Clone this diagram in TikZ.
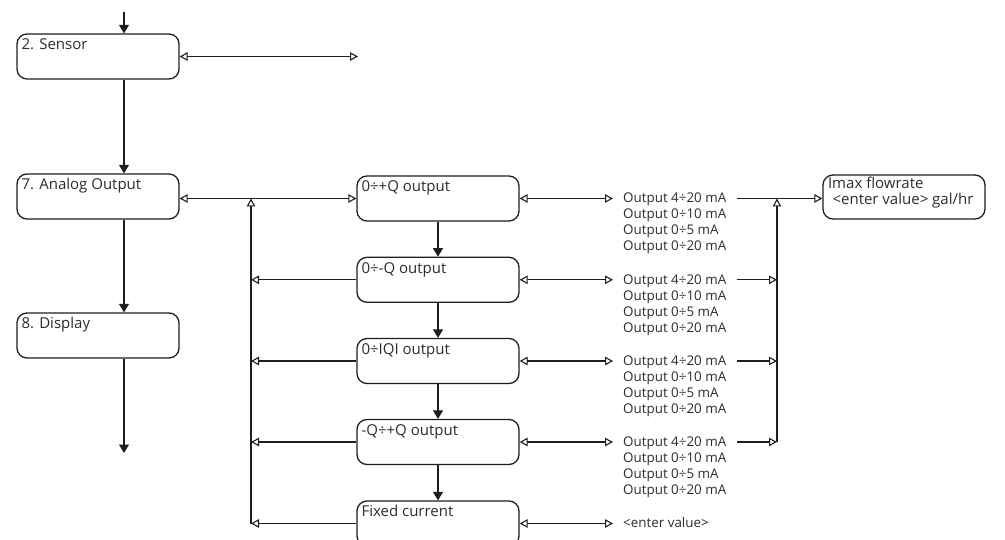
\documentclass[tikz,border=0pt]{standalone}
\usepackage{fontspec}
\setmainfont{Open Sans}
\usetikzlibrary{arrows.meta,calc}
\definecolor{ln}{HTML}{1E1E1E}
\definecolor{tx}{HTML}{2C2C2C}
\begin{document}
\begin{tikzpicture}[x=1pt,y=-1pt,
 box/.style={draw=ln,line width=1.3pt,rounded corners=10pt,minimum width=162pt,minimum height=45pt,inner sep=0pt},
 lbl/.style={anchor=base west,inner sep=0pt,text=tx,font=\fontsize{15}{16}\selectfont},
 otx/.style={anchor=base west,inner xsep=10pt,inner ysep=0pt,text=tx,font=\fontsize{13.4}{16}\selectfont},
 flow/.style={draw=ln,line width=1.1pt,-{Triangle[width=10pt,length=8.5pt]}},
 two/.style={draw=ln,line width=1.1pt,{Triangle[open,width=8.5pt,length=8pt]}-{Triangle[open,width=8.5pt,length=8pt]}},
 one/.style={draw=ln,line width=1.1pt,-{Triangle[open,width=8.5pt,length=8pt]}}]
\path[use as bounding box] (0,0) rectangle (1005,540);
\clip (0,0) rectangle (1005,540);
% boxes
\node[box] (sensor) at (98,56.5) {};
\node[box] (analog) at (98,196.5) {};
\node[box] (display) at (98,335.5) {};
\node[box] (q1) at (438,198.5) {};
\node[box] (q2) at (438,279.8) {};
\node[box] (q3) at (438,361) {};
\node[box] (q4) at (438,442) {};
\node[box] (q5) at (438,523.5) {};
\node[box,minimum height=44pt] (imax) at (904,197) {};
% labels
\node[lbl] (sensorL) at ($(sensor.north west)+(5,16)$) {2. Sensor};
\node[lbl] (analogL) at ($(analog.north west)+(5,16)$) {7. Analog Output};
\node[lbl] (displayL) at ($(display.north west)+(5,16)$) {8. Display};
\node[lbl] (q1L) at ($(q1.north west)+(5,16.5)$) {0÷+Q output};
\node[lbl] (q2L) at ($(q2.north west)+(5,16.5)$) {0÷-Q output};
\node[lbl] (q3L) at ($(q3.north west)+(5,16.5)$) {0÷IQI output};
\node[lbl] (q4L) at ($(q4.north west)+(5,16.5)$) {-Q÷+Q output};
\node[lbl] (q5L) at ($(q5.north west)+(5,16.5)$) {Fixed current};
\node[lbl] (imaxL1) at ($(imax.north west)+(5.5,14)$) {Imax flowrate};
\node[lbl] (imaxL2) at ($(imax.north west)+(10,30)$) {<enter value> gal/hr};
% output texts
\foreach \q/\c in {1/198.5,2/279.8,3/361,4/442}{
  \node[otx] (oa\q) at (613,\c+4.5) {Output 4÷20 mA};
  \node[otx] (ob\q) at (613,\c+20.5) {Output 0÷10 mA};
  \node[otx] (oc\q) at (613,\c+36.5) {Output 0÷5 mA};
  \node[otx] (od\q) at (613,\c+52.5) {Output 0÷20 mA};
}
\node[otx] (ev) at (613,527) {<enter value>};
% coordinates
\coordinate (top) at (124,12);
\coordinate (bot) at (124,453);
\coordinate (sfree) at (358,56.5);
\coordinate (lb) at (251,0);
\coordinate (rb) at (777,0);
% main flow
\draw[flow] (top) -- (top |- sensor.north);
\draw[flow] (top |- sensor.south) -- (top |- analog.north);
\draw[flow] (top |- analog.south) -- (top |- display.north);
\draw[flow] (top |- display.south) -- (bot);
\draw[two] (sensor.east) -- (sfree);
\draw[two] (analog.east |- q1.west) -- (q1.west);
% middle flow
\draw[flow] (q1.south) -- (q2.north);
\draw[flow] (q2.south) -- (q3.north);
\draw[flow] (q3.south) -- (q4.north);
\draw[flow] (q4.south) -- (q5.north);
% left bus
\draw[one] (lb |- q5.west) -- (lb |- q1.west);
\foreach \q in {2,3,4,5}{
  \draw[one] (q\q.west) -- (lb |- q\q.west);
}
% right side
\foreach \q in {1,2,3,4}{
  \draw[two] (q\q.east) -- (q\q.east -| oa\q.west);
}
\draw[two] (q5.east) -- (q5.east -| ev.west);
\draw[one] (oa1.east |- q1.east) -- (imax.west |- q1.east);
\draw[one] (rb |- q4.east) -- (rb |- q1.east);
\foreach \q in {2,3,4}{
  \draw[one] (oa\q.east |- q\q.east) -- (rb |- q\q.east);
}
\end{tikzpicture}
\end{document}
